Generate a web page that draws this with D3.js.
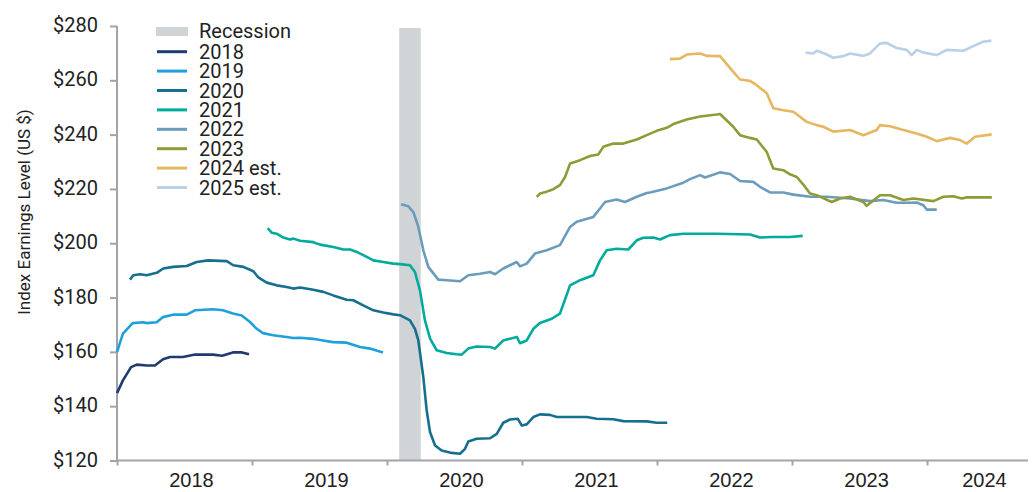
<!DOCTYPE html>
<html>
<head>
<meta charset="utf-8">
<script src="https://cdn.jsdelivr.net/npm/d3@7"></script>
<style>
  body { margin: 0; background: #fff; }
  svg { display: block; font-family: Roboto, "DejaVu Sans", sans-serif; }
</style>
</head>
<body>
<svg id="chart" width="1035" height="492"></svg>
<script>
// Each series: [decimal year, index EPS estimate]
var eps2018 = [[2018.0,144.8],[2018.044,149.5],[2018.104,154.4],[2018.146,155.3],[2018.22,155],[2018.281,155],
  [2018.341,157.3],[2018.393,158.1],[2018.489,158.1],[2018.578,159],[2018.711,159],[2018.778,158.6],
  [2018.859,159.8],[2018.926,159.8],[2018.978,159.1]];

var eps2019 = [[2018.0,159.9],[2018.044,166.7],[2018.116,170.6],[2018.193,170.9],[2018.22,170.6],[2018.294,170.9],
  [2018.341,172.8],[2018.415,173.7],[2018.516,173.7],[2018.578,175.3],[2018.711,175.7],[2018.785,175.3],
  [2018.859,174.1],[2018.924,173.4],[2018.985,171],[2019.035,168.5],[2019.081,166.9],[2019.156,166.1],
  [2019.257,165.5],[2019.304,165.1],[2019.356,165.2],[2019.452,164.8],[2019.526,164.2],[2019.6,163.6],
  [2019.701,163.4],[2019.8,161.8],[2019.874,161.2],[2019.97,159.8]];

var eps2020 = [[2018.096,186.6],[2018.121,188.2],[2018.17,188.6],[2018.22,188.2],[2018.294,189.1],[2018.343,190.7],
  [2018.415,191.3],[2018.516,191.6],[2018.59,193.1],[2018.676,193.7],[2018.763,193.5],[2018.813,193.4],
  [2018.861,191.9],[2018.936,191.3],[2019.01,189.7],[2019.047,187.4],[2019.109,185.5],[2019.183,184.5],
  [2019.257,183.9],[2019.306,183.3],[2019.356,183.7],[2019.454,182.9],[2019.528,182.1],[2019.602,180.8],
  [2019.701,179.2],[2019.75,179],[2019.824,177.1],[2019.899,175.3],[2019.973,174.5],[2020.047,173.8],
  [2020.096,173.5],[2020.17,171.6],[2020.207,168.5],[2020.232,164.2],[2020.269,150.7],[2020.294,138.4],
  [2020.319,130.4],[2020.356,125.5],[2020.405,123.7],[2020.479,122.8],[2020.541,122.5],[2020.578,124.3],
  [2020.602,127],[2020.664,128],[2020.763,128.2],[2020.813,129.8],[2020.861,133.9],[2020.911,135.1],
  [2020.968,135.4],[2020.998,132.9],[2021.035,133.3],[2021.084,136],[2021.133,137],[2021.207,136.8],
  [2021.257,136],[2021.38,136],[2021.479,136],[2021.553,135.4],[2021.676,135.2],[2021.75,134.5],
  [2021.924,134.4],[2021.998,133.9],[2022.076,133.9]];

var eps2021 = [[2019.116,205.6],[2019.146,203.9],[2019.183,203.5],[2019.232,202.1],[2019.281,201.4],[2019.306,201.7],
  [2019.356,200.9],[2019.454,200.4],[2019.504,199.5],[2019.602,198.6],[2019.676,197.7],[2019.726,197.7],
  [2019.776,196.8],[2019.85,195],[2019.899,193.7],[2019.973,193.1],[2020.047,192.5],[2020.096,192.3],
  [2020.17,191.9],[2020.207,189.4],[2020.244,182.7],[2020.281,171.6],[2020.319,164.9],[2020.368,160.6],
  [2020.442,159.6],[2020.516,159.1],[2020.553,159],[2020.602,161.2],[2020.664,162],[2020.763,161.8],
  [2020.8,161.2],[2020.861,164.2],[2020.961,165.5],[2020.985,163.2],[2021.035,164.2],[2021.084,168.5],
  [2021.133,170.6],[2021.22,172.2],[2021.281,174.1],[2021.356,184.5],[2021.43,186.4],[2021.528,188.2],
  [2021.578,193.7],[2021.627,197.4],[2021.701,198],[2021.787,197.7],[2021.85,201.1],[2021.899,202],
  [2021.973,202.1],[2022.022,201.4],[2022.096,203],[2022.195,203.5],[2022.319,203.5],[2022.442,203.5],
  [2022.689,203.2],[2022.763,202.1],[2022.837,202.3],[2022.985,202.3],[2023.079,202.7]];

var eps2022 = [[2020.104,214.4],[2020.158,213.6],[2020.195,211.5],[2020.232,206],[2020.269,197.4],[2020.306,191.3],
  [2020.38,186.6],[2020.442,186.4],[2020.541,186],[2020.602,188.2],[2020.689,188.8],[2020.763,189.4],
  [2020.8,188.6],[2020.861,190.7],[2020.961,193.1],[2020.985,191.5],[2021.035,192.5],[2021.096,196.2],
  [2021.183,197.4],[2021.281,199.3],[2021.356,206],[2021.405,207.9],[2021.528,209.7],[2021.578,212.8],
  [2021.615,215.2],[2021.701,216.1],[2021.763,215.2],[2021.85,217.1],[2021.924,218.5],[2021.948,218.7],
  [2022.072,220.2],[2022.195,222.3],[2022.244,223.6],[2022.319,225.1],[2022.356,224.2],[2022.467,226.1],
  [2022.541,225.5],[2022.615,222.9],[2022.713,222.6],[2022.763,220.8],[2022.837,218.7],[2022.936,218.7],
  [2023.01,217.9],[2023.133,217.1],[2023.257,217.1],[2023.43,216.5],[2023.578,215.5],[2023.677,215.9],
  [2023.775,214.9],[2023.874,214.9],[2023.923,215],[2023.973,214],[2023.998,212.4],[2024.072,212.4]];

var eps2023 = [[2021.109,217.1],[2021.133,218.3],[2021.183,219],[2021.232,219.9],[2021.281,221.4],[2021.319,224.4],
  [2021.356,229.4],[2021.43,230.6],[2021.504,232.1],[2021.565,232.7],[2021.602,235.5],[2021.676,236.7],
  [2021.75,236.7],[2021.85,238.2],[2021.924,239.8],[2021.998,241.4],[2022.072,242.5],[2022.121,243.9],
  [2022.22,245.6],[2022.319,246.7],[2022.442,247.4],[2022.467,247.6],[2022.565,242.9],[2022.615,239.8],
  [2022.689,238.8],[2022.739,238.2],[2022.813,233.6],[2022.861,227.5],[2022.936,226.9],[2022.985,225.4],
  [2023.035,224.4],[2023.084,221.6],[2023.133,218.3],[2023.183,217.7],[2023.294,215.2],[2023.356,216.5],
  [2023.43,217.1],[2023.528,215.2],[2023.553,213.8],[2023.652,217.7],[2023.726,217.7],[2023.825,215.9],
  [2023.899,216.5],[2024.047,215.5],[2024.121,217.1],[2024.195,217.3],[2024.257,216.5],[2024.294,216.9],
  [2024.48,216.9]];

var eps2024 = [[2022.096,267.8],[2022.17,268],[2022.22,269.5],[2022.319,269.9],[2022.368,269],[2022.467,268.9],
  [2022.565,263.1],[2022.615,260.3],[2022.689,259.8],[2022.739,258.2],[2022.813,255.2],[2022.861,249.7],
  [2022.936,249],[2023.01,248.4],[2023.109,244.7],[2023.183,243.5],[2023.232,242.9],[2023.306,241.1],
  [2023.43,241.7],[2023.528,239.8],[2023.627,241.7],[2023.652,243.5],[2023.726,243.1],[2023.825,241.7],
  [2023.923,240.4],[2023.998,239.2],[2024.072,237.6],[2024.17,238.8],[2024.244,238],[2024.294,236.7],
  [2024.356,239.2],[2024.479,240.1]];

var eps2025 = [[2023.101,270.2],[2023.158,269.9],[2023.183,270.9],[2023.207,270.5],[2023.257,269.5],[2023.306,268.3],
  [2023.38,268.9],[2023.43,269.9],[2023.528,269],[2023.578,269.9],[2023.652,273.6],[2023.701,273.8],
  [2023.775,271.9],[2023.849,271.2],[2023.887,269.3],[2023.923,271.2],[2023.973,270.2],[2024.072,269.3],
  [2024.146,271.2],[2024.269,270.9],[2024.343,272.6],[2024.415,274.2],[2024.477,274.6]];

var seriesNames = ["2018", "2019", "2020", "2021", "2022", "2023", "2024 est.", "2025 est."];
var seriesData = [eps2018, eps2019, eps2020, eps2021, eps2022, eps2023, eps2024, eps2025];
var seriesColors = ["#1f3b70", "#1fa0dc", "#166f8f", "#00aa9c", "#6b9cbc", "#8e9b36", "#e6b760", "#b9d0e7"];

var recession = [2020.09, 2020.25];
var yTicks = [120, 140, 160, 180, 200, 220, 240, 260, 280];
var xYears = [2018, 2019, 2020, 2021, 2022, 2023, 2024];
var xEnd = 2024.748;

var svg = d3.select("#chart");

var x = d3.scaleLinear().domain([2018, xEnd]).range([117, 1028]);
var y = d3.scaleLinear().domain([120, 280]).range([460.5, 26]);

// recession band
svg.append("rect")
    .attr("x", x(recession[0]))
    .attr("y", 28)
    .attr("width", x(recession[1]) - x(recession[0]))
    .attr("height", y(120) - 28)
    .style("fill", "#d1d4d7");

// y axis
var yAxis = svg.append("g")
    .attr("transform", "translate(" + x(2018) + ",0)")
    .call(d3.axisLeft(y).tickValues(yTicks).tickSize(7).tickPadding(12)
        .tickFormat(function (d) { return "$" + d; }));
yAxis.selectAll("path, line").style("stroke", "#a3a3ab").style("stroke-width", 2);
yAxis.select(".domain").attr("d", "M0," + y(280) + "V" + y(120));
yAxis.selectAll("text")
    .style("font-family", "Roboto, sans-serif")
    .style("font-size", "20px")
    .style("fill", "#222")
    .attr("dy", "0.28em");

// x axis
var xAxis = svg.append("g")
    .attr("transform", "translate(0," + y(120) + ")")
    .call(d3.axisBottom(x).tickValues(xYears).tickSize(5).tickFormat(""));
xAxis.selectAll("path, line").style("stroke", "#a3a3ab").style("stroke-width", 2);
xAxis.select(".domain").attr("d", "M" + x(2018) + ",0H" + x(xEnd));

xAxis.selectAll(".yearlabel")
    .data(xYears)
    .enter().append("text")
    .attr("class", "yearlabel")
    .attr("x", function (d) { return (x(d) + x(Math.min(d + 1, xEnd))) / 2 + 7; })
    .attr("y", 26)
    .attr("text-anchor", "middle")
    .style("font-size", "20px")
    .style("fill", "#222")
    .text(function (d) { return d; });

// y axis title
svg.append("text")
    .attr("transform", "translate(30,212) rotate(-90)")
    .attr("text-anchor", "middle")
    .style("font-size", "17px")
    .style("fill", "#222")
    .text("Index Earnings Level (US $)");

// lines
var line = d3.line()
    .x(function (d) { return x(d[0]); })
    .y(function (d) { return y(d[1]); });

svg.selectAll(".series")
    .data(seriesData)
    .enter().append("path")
    .attr("class", "series")
    .attr("d", line)
    .style("fill", "none")
    .style("stroke", function (d, i) { return seriesColors[i]; })
    .style("stroke-width", 2.6)
    .style("stroke-linejoin", "round");

// legend
var legend = svg.append("g");
var rowH = 19.4;
legend.append("rect")
    .attr("x", 156).attr("y", 27).attr("width", 32).attr("height", 9)
    .style("fill", "#d1d4d7");
legend.append("text")
    .attr("x", 199).attr("y", 38)
    .style("font-size", "20px").style("fill", "#222")
    .text("Recession");

var rows = legend.selectAll(".row")
    .data(seriesNames)
    .enter().append("g")
    .attr("class", "row")
    .attr("transform", function (d, i) { return "translate(0," + (51.7 + i * rowH) + ")"; });
rows.append("line")
    .attr("x1", 157).attr("x2", 187)
    .style("stroke", function (d, i) { return seriesColors[i]; })
    .style("stroke-width", 3);
rows.append("text")
    .attr("x", 199).attr("y", 7)
    .style("font-size", "20px").style("fill", "#222")
    .text(function (d) { return d; });
</script>
</body>
</html>
